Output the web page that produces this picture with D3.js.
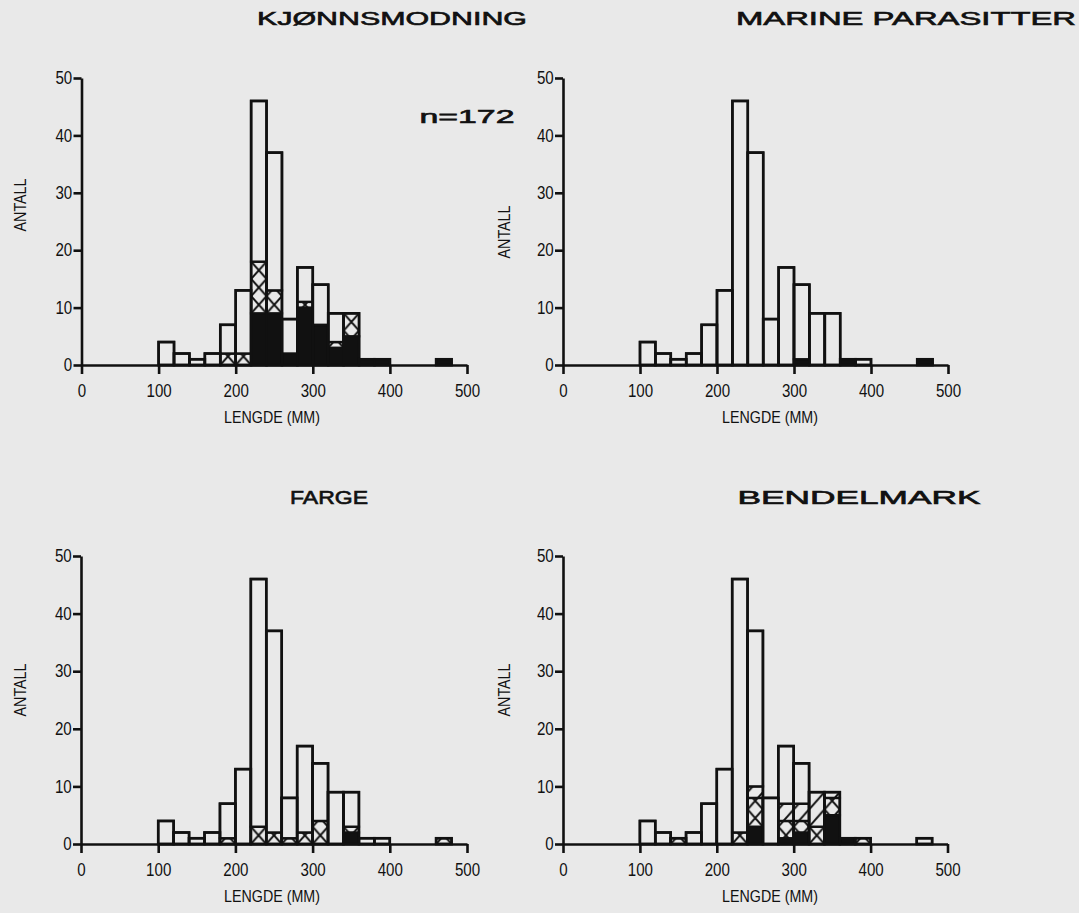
<!DOCTYPE html>
<html>
<head>
<meta charset="utf-8">
<script src="https://cdn.jsdelivr.net/npm/d3@7"></script>
<style>
  html, body { margin: 0; padding: 0; background: #e9e9e9; }
  svg { display: block; }
  .tick text { font-family: "Liberation Sans", Arial, sans-serif; }
</style>
</head>
<body>
<svg id="chart" width="1079" height="913"></svg>
<script>
// Length classes (mm), lower bound of each 20 mm bin
const binStarts = [100, 120, 140, 160, 180, 200, 220, 240, 260, 280, 300, 320, 340, 360, 380, 400, 420, 440, 460];
const binWidth = 20;

// Total number of fish per length class (n = 172)
const totals = [4, 2, 1, 2, 7, 13, 46, 37, 8, 17, 14, 9, 9, 1, 1, 0, 0, 0, 1];

// KJØNNSMODNING
const maturityBlack = [0, 0, 0, 0, 0, 0, 9, 9, 2, 10, 7, 3, 5, 1, 1, 0, 0, 0, 1];
const maturityCross = [0, 0, 0, 0, 2, 2, 9, 4, 0, 1, 0, 1, 4, 0, 0, 0, 0, 0, 0];

// MARINE PARASITTER
const parasiteBlack = [0, 0, 0, 0, 0, 0, 0, 0, 0, 0, 1, 0, 0, 1, 0, 0, 0, 0, 1];

// FARGE
const colourBlack = [0, 0, 0, 0, 0, 0, 0, 0, 0, 0, 0, 0, 2, 0, 0, 0, 0, 0, 0];
const colourCross = [0, 0, 0, 0, 1, 0, 3, 2, 1, 2, 4, 0, 1, 0, 0, 0, 0, 0, 1];

// BENDELMARK
const tapewormBlack = [0, 0, 0, 0, 0, 0, 0, 3, 0, 1, 2, 0, 5, 1, 0, 0, 0, 0, 0];
const tapewormCross = [0, 0, 1, 0, 0, 0, 2, 5, 0, 3, 2, 3, 3, 0, 1, 0, 0, 0, 0];
const tapewormDiag  = [0, 0, 0, 0, 0, 0, 0, 2, 0, 3, 3, 6, 1, 0, 0, 0, 0, 0, 0];

// Axis ticks
const xTicks = [0, 100, 200, 300, 400, 500];
const yTicks = [0, 10, 20, 30, 40, 50];

const panelTitles = ["KJØNNSMODNING", "MARINE PARASITTER", "FARGE", "BENDELMARK"];
const xLabel = "LENGDE (MM)";
const yLabel = "ANTALL";
const sampleNote = "n=172";

// Stacking order from the baseline upwards
const panelSeries = [
  [{ fill: "black", v: maturityBlack }, { fill: "cross", v: maturityCross }],
  [{ fill: "black", v: parasiteBlack }],
  [{ fill: "black", v: colourBlack }, { fill: "cross", v: colourCross }],
  [{ fill: "black", v: tapewormBlack }, { fill: "cross", v: tapewormCross }, { fill: "diag", v: tapewormDiag }]
];

const svg = d3.select("#chart");
const paper = "#e9e9e9";
const ink = "#111";
const narrow = "scale(0.84,1)";   // condensed lettering for axis text
svg.append("rect").attr("width", 1079).attr("height", 913).attr("fill", paper);

// Layout of the four panels
const layout = [
  { left: 81.5, right: 467, top: 78, bottom: 365, title: [392, 25, 270], yLab: [22, 205], xLab: [272, 419] },
  { left: 563, right: 948, top: 78, bottom: 365, title: [906, 25, 340], yLab: [506, 232], xLab: [770, 419] },
  { left: 81, right: 467, top: 556, bottom: 844, title: [329, 504, 78], yLab: [22, 690], xLab: [272, 898] },
  { left: 563, right: 947.5, top: 556, bottom: 844, title: [859, 504, 243], yLab: [506, 690], xLab: [770, 898] }
];

const defs = svg.append("defs");

layout.forEach((L, pi) => {
  const x = d3.scaleLinear().domain([0, 500]).range([L.left, L.right]);
  const y = d3.scaleLinear().domain([0, 50]).range([L.bottom, L.top]);
  const bw = x(binWidth) - x(0);
  const unit = y(0) - y(3);

  // hatch patterns aligned to this panel's bins
  const cp = defs.append("pattern").attr("id", "cross" + pi)
    .attr("patternUnits", "userSpaceOnUse")
    .attr("x", x(0)).attr("y", y(0))
    .attr("width", bw).attr("height", unit);
  cp.append("rect").attr("width", bw).attr("height", unit).attr("fill", paper);
  cp.append("path").attr("d", `M0,0L${bw},${unit}M${bw},0L0,${unit}`)
    .attr("stroke", ink).attr("stroke-width", 2).attr("fill", "none");

  const dp = defs.append("pattern").attr("id", "diag" + pi)
    .attr("patternUnits", "userSpaceOnUse")
    .attr("x", x(0)).attr("y", y(0))
    .attr("width", bw).attr("height", unit);
  dp.append("rect").attr("width", bw).attr("height", unit).attr("fill", paper);
  dp.append("path").attr("d", `M0,${unit}L${bw},0`)
    .attr("stroke", ink).attr("stroke-width", 2).attr("fill", "none");

  const fillOf = f => f === "black" ? ink : f === "cross" ? `url(#cross${pi})` : f === "diag" ? `url(#diag${pi})` : paper;

  const g = svg.append("g");

  // build stacked segments per bin
  const segs = [];
  binStarts.forEach((b, i) => {
    if (totals[i] === 0) return;
    let base = 0;
    panelSeries[pi].forEach(s => {
      const v = s.v[i];
      if (v > 0) { segs.push({ b, y0: base, y1: base + v, fill: s.fill }); base += v; }
    });
    if (totals[i] > base) segs.push({ b, y0: base, y1: totals[i], fill: "white" });
  });

  g.selectAll("rect.seg").data(segs).join("rect")
    .attr("class", "seg")
    .attr("x", d => x(d.b))
    .attr("width", bw)
    .attr("y", d => y(d.y1))
    .attr("height", d => y(d.y0) - y(d.y1))
    .attr("fill", d => fillOf(d.fill))
    .attr("stroke", ink)
    .attr("stroke-width", 2.4);

  // outline of each whole bar
  g.selectAll("rect.bar").data(binStarts.map((b, i) => ({ b, t: totals[i] })).filter(d => d.t > 0)).join("rect")
    .attr("class", "bar")
    .attr("x", d => x(d.b))
    .attr("width", bw)
    .attr("y", d => y(d.t))
    .attr("height", d => y(0) - y(d.t))
    .attr("fill", "none")
    .attr("stroke", ink)
    .attr("stroke-width", 2.6);

  // axes
  const xa = svg.append("g").attr("transform", `translate(0,${y(0)})`)
    .call(d3.axisBottom(x).tickValues(xTicks).tickSize(9).tickSizeOuter(0).tickPadding(10).tickFormat(d3.format("d")));
  const ya = svg.append("g").attr("transform", `translate(${x(0)},0)`)
    .call(d3.axisLeft(y).tickValues(yTicks).tickSize(8).tickSizeOuter(0).tickPadding(3).tickFormat(d3.format("d")));
  [xa, ya].forEach(a => {
    a.select(".domain").attr("stroke", ink).attr("stroke-width", 2.6);
    a.selectAll(".tick line").attr("stroke", ink).attr("stroke-width", 2.6);
    a.selectAll(".tick text").attr("fill", ink).attr("font-size", 18).attr("transform", narrow);
  });

  // titles
  svg.append("text")
    .attr("x", L.title[0]).attr("y", L.title[1])
    .attr("text-anchor", "middle")
    .attr("textLength", L.title[2]).attr("lengthAdjust", "spacingAndGlyphs")
    .attr("font-family", "Liberation Sans, Arial, sans-serif")
    .attr("font-size", 18).attr("fill", ink)
    .attr("stroke", ink).attr("stroke-width", 0.6)
    .text(panelTitles[pi]);

  svg.append("text")
    .attr("transform", `translate(${L.yLab[0]},${L.yLab[1]}) rotate(-90) ${narrow}`)
    .attr("text-anchor", "middle").attr("dominant-baseline", "middle")
    .attr("font-family", "Liberation Sans, Arial, sans-serif")
    .attr("font-size", 17).attr("fill", ink)
    .text(yLabel);

  svg.append("text")
    .attr("transform", `translate(${L.xLab[0]},${L.xLab[1]}) ${narrow}`)
    .attr("text-anchor", "middle").attr("dominant-baseline", "middle")
    .attr("font-family", "Liberation Sans, Arial, sans-serif")
    .attr("font-size", 17).attr("fill", ink)
    .text(xLabel);

  if (pi === 0) {
    svg.append("text")
      .attr("x", 467).attr("y", 123)
      .attr("text-anchor", "middle")
      .attr("textLength", 95).attr("lengthAdjust", "spacingAndGlyphs")
      .attr("font-family", "Liberation Sans, Arial, sans-serif")
      .attr("font-size", 18).attr("fill", ink)
      .attr("stroke", ink).attr("stroke-width", 0.6)
      .text(sampleNote);
  }
});
</script>
</body>
</html>
